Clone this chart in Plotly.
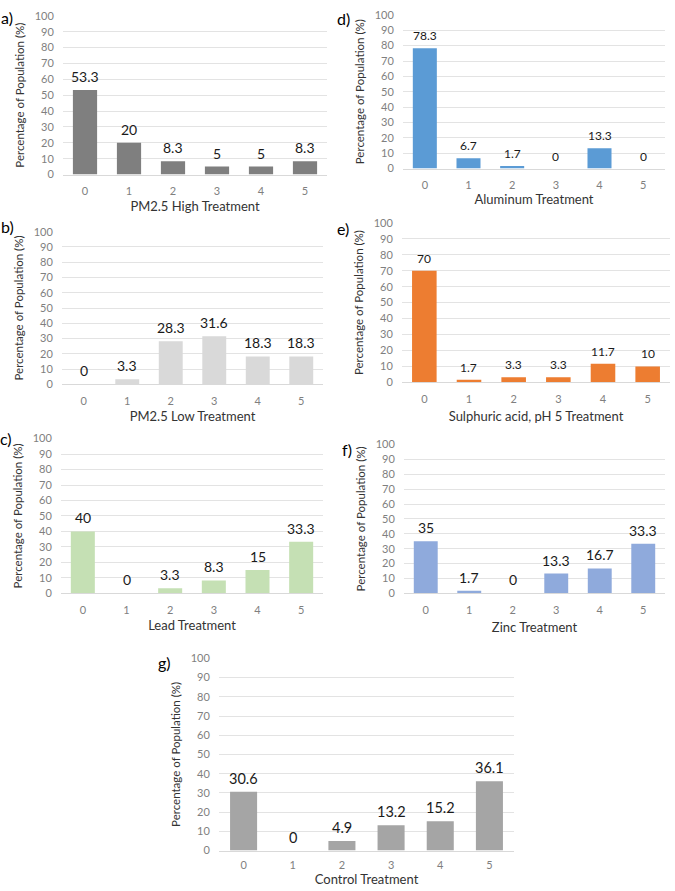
import plotly.graph_objects as go

# ---------------------------------------------------------------------------
# Data (percentage of population per score 0-5)
# ---------------------------------------------------------------------------

SCORES = ["0", "1", "2", "3", "4", "5"]

PM25_HIGH = [53.3, 20, 8.3, 5, 5, 8.3]
PM25_LOW = [0, 3.3, 28.3, 31.6, 18.3, 18.3]
LEAD = [40, 0, 3.3, 8.3, 15, 33.3]
ALUMINUM = [78.3, 6.7, 1.7, 0, 13.3, 0]
SULPHURIC = [70, 1.7, 3.3, 3.3, 11.7, 10]
ZINC = [35, 1.7, 0, 13.3, 16.7, 33.3]
CONTROL = [30.6, 0, 4.9, 13.2, 15.2, 36.1]

TITLES = [
    "PM2.5 High Treatment",
    "PM2.5 Low Treatment",
    "Lead Treatment",
    "Aluminum Treatment",
    "Sulphuric acid, pH 5 Treatment",
    "Zinc Treatment",
    "Control Treatment",
]
PANEL_LABELS = ["a)", "b)", "c)", "d)", "e)", "f)", "g)"]

W, H = 675, 891
FONT = "Lato, 'Open Sans', sans-serif"

# plot-area boxes in pixels: (left, right, top(=100), bottom(=0))
BOXES = [
    (63, 327, 9, 170),
    (62, 323, 228, 383),
    (61, 323, 438, 595),
    (403, 665, 8, 164),
    (402, 670, 219, 381),
    (404, 665, 444, 595),
    (219, 514, 661, 856),
]
COLORS = ["#7f7f7f", "#d9d9d9", "#c5e0b4", "#5b9bd5", "#ed7d31", "#8faadc", "#a5a5a5"]
LABEL_SIZES = [14, 14, 14, 12, 12, 14, 14.5]
LABEL_POS = [(7, 11), (7, 223), (6, 438), (343, 12), (343, 225), (347, 449), (164, 665)]
TICKLENS = [6, 6, 6, 6, 6, 6, 4]
STANDOFFS = [6, 6, 6, 4, 8, 8, 0]

SERIES = [PM25_HIGH, PM25_LOW, LEAD, ALUMINUM, SULPHURIC, ZINC, CONTROL]


def build_figure() -> go.Figure:
    fig = go.Figure()
    layout = {}
    annotations = []

    for i, (values, color, box) in enumerate(zip(SERIES, COLORS, BOXES)):
        n = "" if i == 0 else str(i + 1)
        xa, ya = f"x{n}", f"y{n}"
        fig.add_trace(go.Bar(
            x=SCORES, y=values,
            xaxis=xa, yaxis=ya,
            marker=dict(color=color, line=dict(width=0)),
            showlegend=False,
            hoverinfo="x+y",
        ))
        # value labels above each bar
        for s, v in zip(SCORES, values):
            annotations.append(dict(
                x=s, y=v, xref=xa, yref=ya,
                text=f"{v:g}", showarrow=False,
                yanchor="bottom", yshift=3,
                font=dict(family=FONT, size=LABEL_SIZES[i], color="#1a1a1a"),
            ))

        left, right, top, bottom = box
        layout[f"xaxis{n}"] = dict(
            domain=[left / W, right / W],
            anchor=ya,
            type="category",
            ticks="outside", ticklen=TICKLENS[i], tickcolor="rgba(0,0,0,0)",
            tickfont=dict(family=FONT, size=11, color="#7f7f7f"),
            showline=True, linecolor="#d9d9d9", linewidth=1,
            title=dict(text=TITLES[i], standoff=STANDOFFS[i],
                       font=dict(family=FONT, size=13, color="#333333")),
            fixedrange=True,
        )
        layout[f"yaxis{n}"] = dict(
            domain=[1 - bottom / H, 1 - top / H],
            anchor=xa,
            range=[0, 100], dtick=10,
            showgrid=True, gridcolor="#e3e3e3", gridwidth=1,
            zeroline=False,
            ticks="outside", ticklen=6, tickcolor="rgba(0,0,0,0)",
            tickfont=dict(family=FONT, size=11, color="#7f7f7f"),
            title=dict(text="Percentage of Population (%)", standoff=7,
                       font=dict(family=FONT, size=11.5, color="#333333")),
            fixedrange=True,
        )

    for text, (px, py) in zip(PANEL_LABELS, LABEL_POS):
        annotations.append(dict(
            x=px / W, y=1 - py / H, xref="paper", yref="paper",
            text=text, showarrow=False, xanchor="center", yanchor="middle",
            font=dict(family=FONT, size=16, color="#000000"),
        ))

    fig.update_layout(
        width=W, height=H,
        margin=dict(l=0, r=0, t=0, b=0),
        paper_bgcolor="white", plot_bgcolor="white",
        bargap=0.45,
        annotations=annotations,
        **layout,
    )
    return fig


fig = build_figure()
# drop the default page margin so the figure sits flush with the window
fig.write_html(
    "out.html",
    config={"displayModeBar": False},
    post_script="document.body.style.margin='0';",
)
